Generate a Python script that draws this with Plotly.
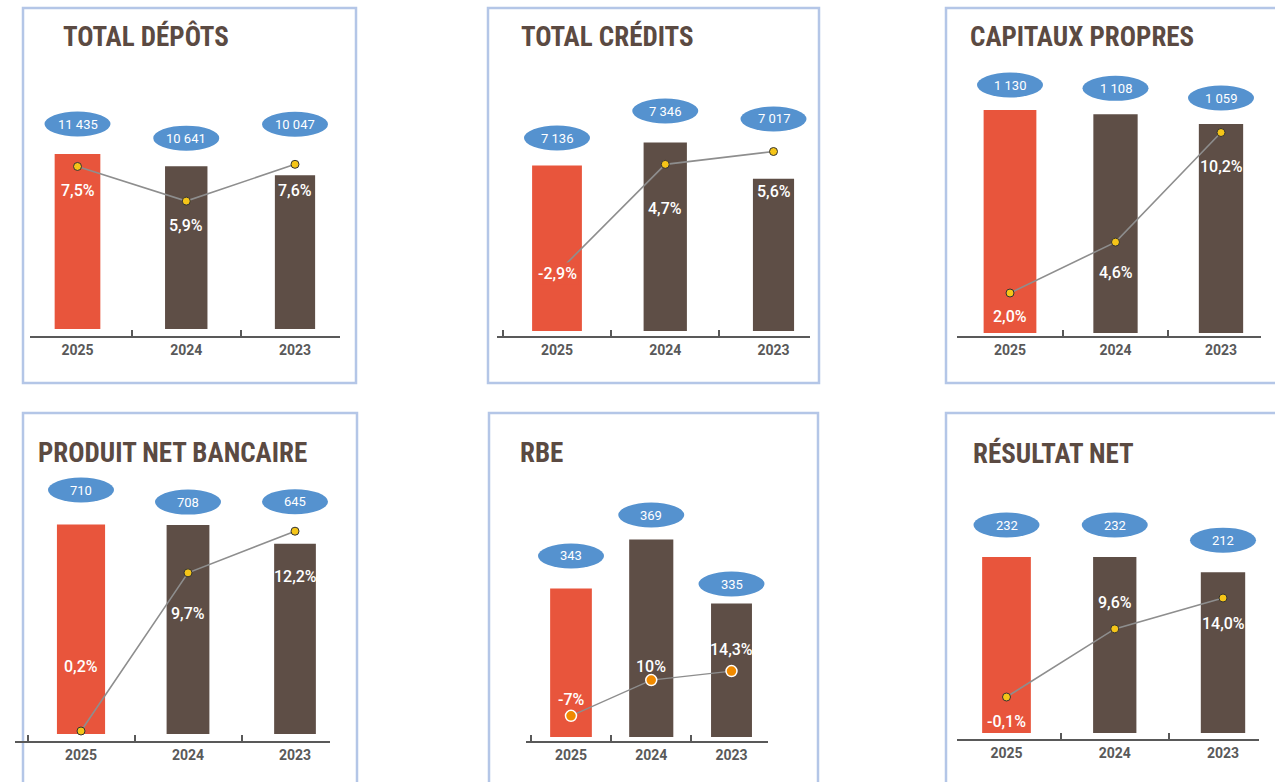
import plotly.graph_objects as go

W, H = 1275, 782

# ---------------- data ----------------
years = ["2025", "2024", "2023"]
titles = ["TOTAL DÉPÔTS", "TOTAL CRÉDITS", "CAPITAUX PROPRES",
          "PRODUIT NET BANCAIRE", "RBE", "RÉSULTAT NET"]
depots = [11435, 10641, 10047]
credits = [7136, 7346, 7017]
capitaux = [1130, 1108, 1059]
pnb = [710, 708, 645]
rbe = [343, 369, 335]
resultat = [232, 232, 212]
depots_pct = [7.5, 5.9, 7.6]
credits_pct = [-2.9, 4.7, 5.6]
capitaux_pct = [2.0, 4.6, 10.2]
pnb_pct = [0.2, 9.7, 12.2]
rbe_pct = [-7, 10, 14.3]
resultat_pct = [-0.1, 9.6, 14.0]

values = [depots, credits, capitaux, pnb, rbe, resultat]
pcts = [depots_pct, credits_pct, capitaux_pct, pnb_pct, rbe_pct, resultat_pct]

# ---------------- styles / layout (pixels) ----------------
RED, BROWN = "#E8553C", "#5E4E46"
BLUE = "#5592CF"
BORDER = "#B4C6E7"
AXIS = "#595959"
TITLE_C = "#5B4A42"
TITLE_FONT = "Roboto Condensed, DejaVu Sans Condensed, sans-serif"
TXT_FONT = "Roboto, DejaVu Sans, sans-serif"

panels = [
    dict(box=(23, 8, 356, 383), title=(61, 37), xl=30, xr=340, c0=77.5, c2=295,
         al=337, bb=329, top=60, vmap=((0, 329), (11435, 154)),
         pmap=((7.0, 177.3), (5.9, 201.1)), widths=[0.42, 0.39, 0.37],
         ell=[30, 28, 51], poff=[24, 24, 26], rbe=False),
    dict(box=(488, 8, 819, 383), title=(519, 37), xl=497, xr=810, c0=557, c2=773.5,
         al=337, bb=331, top=60, vmap=((5640, 331), (7346, 142.4)),
         pmap=((2.467, 196.3), (5.6, 151.5)), widths=[0.46, 0.40, 0.38],
         ell=[27.6, 31.4, 59.8], poff=[0, 44, 40], rbe=False),
    dict(box=(946, 8, 1290, 383), title=(968, 37), xl=957, xr=1261, c0=1010, c2=1221,
         al=337, bb=333, top=60, vmap=((0, 333), (1130, 110)),
         pmap=((2.0, 293), (10.2, 132.5)), widths=[0.50, 0.42, 0.42],
         ell=[25, 26, 26], poff=[23, 30, 34], rbe=False),
    dict(box=(23, 413, 357, 800), title=(36, 453), xl=15, xr=330, c0=81, c2=295,
         al=742, bb=734, top=470, vmap=((0, 734), (710, 524.5)),
         pmap=((0.2, 731), (12.2, 531.2)), widths=[0.45, 0.40, 0.39],
         ell=[34.5, 23, 42], poff=[-65, 41, 45], rbe=False),
    dict(box=(489, 413, 818, 800), title=(518, 453), xl=526, xr=768, c0=571, c2=731.5,
         al=742, bb=737, top=470, vmap=((264, 737), (369, 539.6)),
         pmap=((-7, 715.8), (14.3, 671.1)), widths=[0.52, 0.55, 0.51],
         ell=[32.5, 24.6, 19.5], poff=[-16, -14, -22], rbe=True),
    dict(box=(946, 413, 1290, 800), title=(971, 453), xl=957, xr=1259, c0=1006.5, c2=1223,
         al=740, bb=733, top=470, vmap=((0, 733), (232, 557)),
         pmap=((-0.1, 697), (14.0, 598)), widths=[0.45, 0.40, 0.41],
         ell=[32, 32, 32], poff=[24, -26, 25], rbe=False),
]


def px_to_val(p, pair):
    (va, pa), (vb, pb) = pair
    k = (pa - pb) / (vb - va)
    return va + (pa - p) / k


def fmt_val(v):
    return f"{v:,}".replace(",", " ")


def fmt_pct(v, rbe):
    s = f"{v:g}" if rbe else f"{v:.1f}"
    return s.replace(".", ",") + "%"


fig = go.Figure()
layout = dict(width=W, height=H, margin=dict(l=0, r=0, t=0, b=0),
              paper_bgcolor="white", plot_bgcolor="rgba(0,0,0,0)",
              showlegend=False, shapes=[], annotations=[])

for i, (p, vals, pc, title) in enumerate(zip(panels, values, pcts, titles)):
    n = i + 1
    sfx = "" if n == 1 else str(n)
    xa, ya, y2a = f"xaxis{sfx}", f"yaxis{sfx}", f"yaxis{n + 6}"
    xr_, yr_, y2r_ = f"x{sfx}", f"y{sfx}", f"y{n + 6}"
    u = (p["c2"] - p["c0"]) / 2.0
    r0 = (p["xl"] - p["c0"]) / u
    r1 = 2 + (p["xr"] - p["c2"]) / u
    dom_y = [1 - p["bb"] / H, 1 - p["top"] / H]

    layout[xa] = dict(domain=[p["xl"] / W, p["xr"] / W], type="category",
                      categoryorder="array", categoryarray=years,
                      range=[r0, r1], anchor="free", position=1 - p["al"] / H,
                      showline=True, linecolor=AXIS, linewidth=2,
                      ticks="inside", tickson="boundaries", ticklen=6,
                      tickwidth=2, tickcolor=AXIS, showgrid=False, zeroline=False,
                      tickfont=dict(family=TXT_FONT, size=14, color=AXIS,
                                    weight="bold"),
                      fixedrange=True)
    layout[ya] = dict(domain=dom_y, anchor=xr_,
                      range=[px_to_val(p["bb"], p["vmap"]), px_to_val(p["top"], p["vmap"])],
                      visible=False, fixedrange=True)
    layout[y2a] = dict(domain=dom_y, anchor=xr_, overlaying=yr_,
                       range=[px_to_val(p["bb"], p["pmap"]), px_to_val(p["top"], p["pmap"])],
                       visible=False, fixedrange=True)

    colors = [RED, BROWN, BROWN]
    fig.add_trace(go.Bar(x=years, y=vals, width=p["widths"], xaxis=xr_, yaxis=yr_,
                         marker=dict(color=colors, line=dict(width=0)),
                         hoverinfo="skip"))
    if p["rbe"]:
        mk = dict(size=11, color="#F08A00", line=dict(color="white", width=1.5))
        lw, lc = 1.3, "#8E8E8E"
    else:
        mk = dict(size=8, color="#F5C518", line=dict(color="#333333", width=1))
        lw, lc = 1.6, "#8E8E8E"
    fig.add_trace(go.Scatter(x=years, y=pc, xaxis=xr_, yaxis=y2r_, mode="lines+markers",
                             line=dict(color=lc, width=lw), marker=mk,
                             cliponaxis=False, hoverinfo="skip"))

    # border box
    bx0, by0, bx1, by1 = p["box"]
    layout["shapes"].append(dict(type="rect", xref="paper", yref="paper",
                                 x0=bx0 / W, x1=bx1 / W, y0=1 - by0 / H, y1=1 - by1 / H,
                                 line=dict(color=BORDER, width=2.5), layer="below"))
    # title
    layout["annotations"].append(dict(text=title, xref="paper", yref="paper",
                                      x=p["title"][0] / W, y=1 - p["title"][1] / H,
                                      xanchor="left", yanchor="middle", showarrow=False,
                                      font=dict(family=TITLE_FONT, size=27, color=TITLE_C,
                                                weight="bold")))
    for j, yr in enumerate(years):
        d = p["ell"][j]
        layout["shapes"].append(dict(type="circle", xref=xr_, yref=yr_,
                                     xsizemode="pixel", ysizemode="pixel",
                                     xanchor=j, yanchor=vals[j],
                                     x0=-33, x1=33, y0=d - 12.5, y1=d + 12.5,
                                     fillcolor=BLUE, line=dict(width=0), layer="above"))
        layout["annotations"].append(dict(text=fmt_val(vals[j]), x=j, y=vals[j],
                                          xref=xr_, yref=yr_, yshift=d, showarrow=False,
                                          font=dict(family=TXT_FONT, size=13, color="white")))
        off = p["poff"][j]
        ann = dict(text=fmt_pct(pc[j], p["rbe"]), x=j, y=pc[j], xref=xr_, yref=y2r_,
                   yshift=-off, showarrow=False,
                   font=dict(family=TXT_FONT, size=16, color="white", weight=500))
        if abs(off) < 5:
            ann.update(bgcolor=colors[j], borderpad=1)
        layout["annotations"].append(ann)

fig.update_layout(**layout)
fig.write_html("out.html", config={"displayModeBar": False},
               post_script="document.body.style.margin='0';")
